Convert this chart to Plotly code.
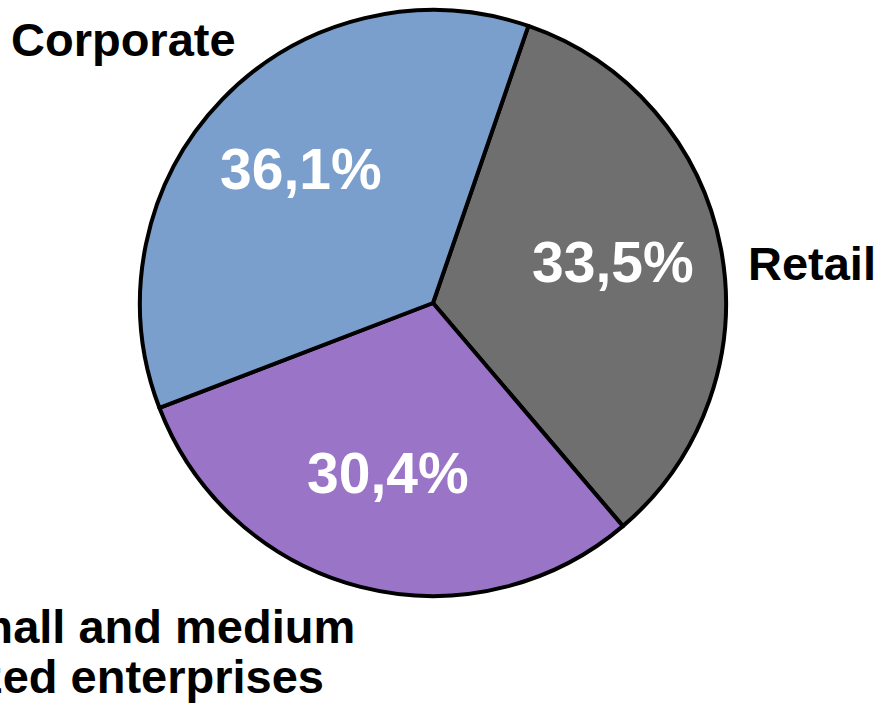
import math
import plotly.graph_objects as go

# Share of business by segment (%), listed clockwise starting just right of 12 o'clock
segments = ["Retail", "Small and medium<br>sized enterprises", "Corporate"]
shares = [33.5, 30.4, 36.1]
slice_colors = ["#6f6f6f", "#9a74c6", "#7a9fcc"]

W, H = 879, 707
START_ANGLE = 19  # degrees clockwise from 12 o'clock where the first slice begins

# Pie placement in pixels
CX, CY, R = 433, 303, 293

fig = go.Figure(
    go.Pie(
        labels=segments,
        values=shares,
        sort=False,
        direction="clockwise",
        rotation=START_ANGLE,
        marker=dict(colors=slice_colors, line=dict(color="#000000", width=4)),
        textinfo="none",
        domain=dict(x=[(CX - R) / W, (CX + R) / W], y=[1 - (CY + R) / H, 1 - (CY - R) / H]),
        hoverinfo="label+percent",
        showlegend=False,
    )
)

pct_font = dict(family="Liberation Sans, Arial, sans-serif", size=57, color="#ffffff")
label_font = dict(family="Liberation Sans, Arial, sans-serif", size=47, color="#000000")

def bold(s):
    return "<b>" + s + "</b>"

# Percentage labels inside each slice, at the slice's mid angle
total = sum(shares)
cum = 0.0
for v in shares:
    mid = START_ANGLE + 360 * (cum + v / 2) / total
    cum += v
    px = CX + 0.625 * R * math.sin(math.radians(mid))
    py = CY - 0.625 * R * math.cos(math.radians(mid))
    txt = f"{100 * v / total:.1f}".replace(".", ",") + "%"
    fig.add_annotation(x=px / W, y=1 - (py - 7) / H, xref="paper", yref="paper",
                       text=bold(txt), showarrow=False,
                       xanchor="center", yanchor="middle", font=pct_font)

# Category labels placed outside the pie
fig.add_annotation(x=9 / W, y=1 - 40 / H, xref="paper", yref="paper",
                   text=bold(segments[2]), showarrow=False,
                   xanchor="left", yanchor="middle", font=label_font)
fig.add_annotation(x=746 / W, y=1 - 263 / H, xref="paper", yref="paper",
                   text=bold(segments[0]), showarrow=False,
                   xanchor="left", yanchor="middle", font=label_font)
for i, line in enumerate(segments[1].split("<br>")):
    fig.add_annotation(x=-62 / W, y=1 - (626 + 50 * i) / H, xref="paper", yref="paper",
                       text=bold(line), showarrow=False,
                       xanchor="left", yanchor="middle", font=label_font)

fig.update_layout(
    width=W,
    height=H,
    margin=dict(l=0, r=0, t=0, b=0),
    paper_bgcolor="#ffffff",
    plot_bgcolor="#ffffff",
    font=dict(family="Liberation Sans, Arial, sans-serif"),
)

fig.write_html("out.html")
